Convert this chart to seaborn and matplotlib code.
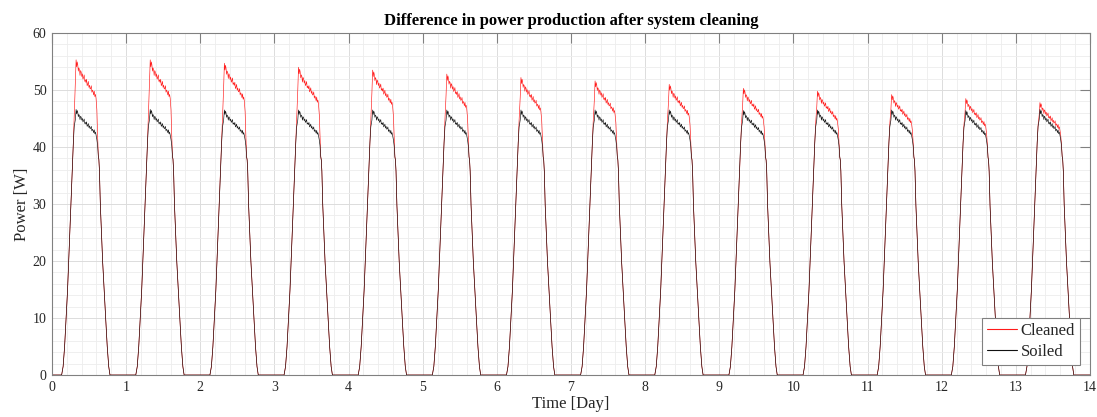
import numpy as np
import pandas as pd
import seaborn as sns
import matplotlib.pyplot as plt
from matplotlib.ticker import MultipleLocator

# typical daily shape of the soiled panel (fraction of day -> W)
day_frac = [0.00, 0.13, 0.15, 0.17, 0.19, 0.21, 0.225, 0.24, 0.256, 0.272, 0.288,
            0.30, 0.315, 0.325, 0.333, 0.34, 0.347, 0.355, 0.362, 0.37, 0.378,
            0.386, 0.394, 0.402, 0.41, 0.418, 0.426, 0.434, 0.442, 0.45, 0.458,
            0.466, 0.474, 0.482, 0.49, 0.498, 0.506, 0.514, 0.522, 0.53, 0.538,
            0.546, 0.554, 0.562, 0.57, 0.578, 0.586, 0.594, 0.605, 0.615, 0.625,
            0.632, 0.64, 0.652, 0.667, 0.683, 0.703, 0.724, 0.745, 0.765, 0.782]
soiled_shape = [0, 0, 1.5, 5, 10, 15, 20, 25, 30, 35.5, 41,
                43.8, 45.0, 46.8, 46.0, 46.6, 46.3, 45.5, 45.9, 45.7, 45.0,
                45.6, 45.4, 44.9, 45.2, 44.6, 44.8, 45.1, 44.3, 44.5, 44.2,
                44.6, 43.8, 44.0, 44.3, 43.6, 43.9, 43.4, 43.5, 43.8, 43.0,
                43.3, 43.1, 42.7, 43.2, 42.5, 42.8, 42.3, 41.5, 40.5, 38.5,
                38.0, 36, 30, 25, 20, 15, 10, 5, 1.5, 0]
# share of the cleaning gain over the day (1 at the noon peak)
gain_shape = [0, 0, 0, 0, 0, 0, 0, 0, 0, 0, 0,
              0.2, 0.7, 1.0, 0.95, 0.98, 0.96, 0.92, 0.94, 0.93, 0.89,
              0.92, 0.91, 0.88, 0.9, 0.86, 0.87, 0.89, 0.85, 0.86, 0.84,
              0.86, 0.82, 0.83, 0.85, 0.81, 0.82, 0.8, 0.8, 0.82, 0.78,
              0.79, 0.78, 0.76, 0.78, 0.75, 0.76, 0.74, 0.6, 0.2, 0,
              0, 0, 0, 0, 0, 0, 0, 0, 0, 0]

days = list(range(14))
soiled_peak = [46.6, 46.6, 46.5, 46.5, 46.5, 46.5, 46.5, 46.5, 46.5, 46.4, 46.5, 46.5, 46.4, 46.6]
cleaned_peak = [55.3, 55.3, 54.7, 54.0, 53.5, 52.8, 52.2, 51.6, 51.0, 50.3, 49.8, 49.2, 48.5, 47.8]

frac = np.array(day_frac)
shape = np.array(soiled_shape)
gain = np.array(gain_shape)

t_all, cleaned_all, soiled_all = [], [], []
for d in days:
    s = shape * soiled_peak[d] / shape.max()
    c = s + gain * (cleaned_peak[d] - soiled_peak[d])
    t_all.append(d + frac)
    soiled_all.append(s)
    cleaned_all.append(c)

t_all = np.concatenate(t_all + [np.array([14.0])])
soiled_all = np.concatenate(soiled_all + [np.array([0.0])])
cleaned_all = np.concatenate(cleaned_all + [np.array([0.0])])

df = pd.DataFrame({
    'time': np.concatenate([t_all, t_all]),
    'power': np.concatenate([cleaned_all, soiled_all]),
    'series': ['Cleaned'] * len(t_all) + ['Soiled'] * len(t_all),
})

sns.set_style('white')
plt.rcParams['font.family'] = ['Liberation Serif', 'DejaVu Serif']

fig = plt.figure(figsize=(10.97, 4.17), dpi=100)
ax = fig.add_axes([0.0474, 0.1007, 0.9462, 0.8202])

sns.lineplot(data=df, x='time', y='power', hue='series',
             palette={'Cleaned': '#ff1a1a', 'Soiled': '#111111'},
             estimator=None, sort=False, linewidth=0.45, ax=ax)

ax.set_xlim(0, 14)
ax.set_ylim(0, 60)
ax.xaxis.set_major_locator(MultipleLocator(1))
ax.xaxis.set_minor_locator(MultipleLocator(0.2))
ax.yaxis.set_major_locator(MultipleLocator(10))
ax.yaxis.set_minor_locator(MultipleLocator(2))
ax.grid(which='major', color='#dcdcdc', linewidth=0.7)
ax.grid(which='minor', color='#ededed', linewidth=0.6)
ax.set_axisbelow(True)

for sp in ax.spines.values():
    sp.set_color('#808080')
    sp.set_linewidth(0.8)
ax.tick_params(which='major', direction='in', length=7, width=0.8, color='#808080',
               top=True, right=True, labelsize=10, labelcolor='#262626', pad=4)
ax.tick_params(which='minor', length=0)

ax.set_xlabel('Time [Day]', fontsize=12, color='#262626', labelpad=2)
ax.set_ylabel('Power [W]', fontsize=12, color='#262626', labelpad=2)
ax.set_title('Difference in power production after system cleaning',
             fontsize=12, fontweight='bold', color='#000000', pad=6)

leg = ax.legend(loc='lower right', fontsize=12, frameon=True, fancybox=False,
                framealpha=1, edgecolor='#808080', handlelength=1.8,
                borderaxespad=0.6, borderpad=0.3, labelspacing=0.3, handletextpad=0.2)
leg.get_frame().set_linewidth(0.8)
for line in leg.get_lines():
    line.set_linewidth(0.8)

fig.savefig('out.png', dpi=100)
